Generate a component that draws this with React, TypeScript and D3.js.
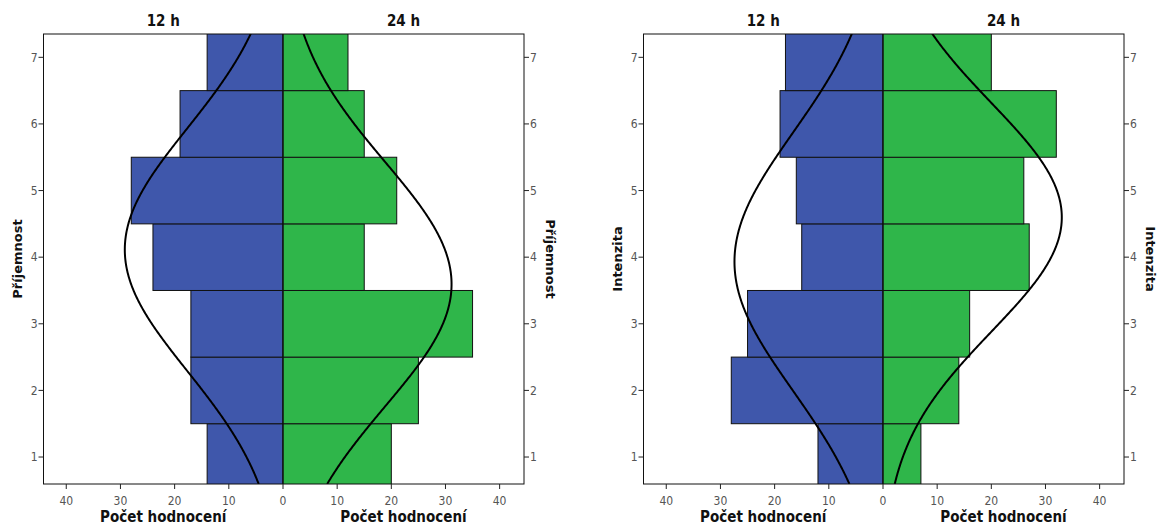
import React from "react"
import * as d3 from "d3"

const W = 1157
const H = 528

const ratings = [1, 2, 3, 4, 5, 6, 7]
const groupTitles = ["12 h", "24 h"]
const xTicks = [0, 10, 20, 30, 40]
const xTitle = "Počet hodnocení"

// counts per rating 1..7
const prijemnost12 = [14, 17, 17, 24, 28, 19, 14]
const prijemnost24 = [20, 25, 35, 15, 21, 15, 12]
const intenzita12 = [12, 28, 25, 15, 16, 19, 18]
const intenzita24 = [7, 14, 16, 27, 26, 32, 20]

const BLUE = "#3F57AB"
const GREEN = "#2FB64A"
const narrow = "'Liberation Sans Narrow', 'DejaVu Sans Condensed', Arial, sans-serif"

const top = 34
const bottom = 484
const left = 43.5
const mid = 283
const right = 524

// normal curve fitted to the counts (as SPSS draws it)
const fit = (counts: number[]) => {
  const n = d3.sum(counts)
  const mean = d3.sum(counts, (c, i) => c * ratings[i]) / n
  const v = d3.sum(counts, (c, i) => c * (ratings[i] - mean) ** 2) / n
  const sd = Math.sqrt(v)
  return (x: number) => (n / (sd * Math.sqrt(2 * Math.PI))) * Math.exp(-((x - mean) ** 2) / (2 * sd * sd))
}

const Pyramid = ({ ox, label, c12, c24, id }: { ox: number; label: string; c12: number[]; c24: number[]; id: string }) => {
  const y = d3.scaleLinear().domain([0.595, 7.35]).range([bottom, top])
  const xl = d3.scaleLinear().domain([44.2, 0]).range([left, mid])
  const xr = d3.scaleLinear().domain([0, 44.5]).range([mid, right])
  const f12 = fit(c12)
  const f24 = fit(c24)
  const samples = d3.range(0.595, 7.36, 0.02)
  const lineL = d3.line<number>().x(v => xl(f12(v))).y(v => y(v))
  const lineR = d3.line<number>().x(v => xr(f24(v))).y(v => y(v))

  return (
    <g transform={`translate(${ox},0)`}>
      <defs>
        <clipPath id={id}>
          <rect x={left} y={top} width={right - left} height={bottom - top} />
        </clipPath>
      </defs>
      <g clipPath={`url(#${id})`}>
        {ratings.map((r, i) => (
          <rect key={"l" + r} x={xl(c12[i])} y={y(r + 0.5)} width={xl(0) - xl(c12[i])} height={y(r - 0.5) - y(r + 0.5)}
            fill={BLUE} stroke="#111" strokeWidth={1} />
        ))}
        {ratings.map((r, i) => (
          <rect key={"r" + r} x={xr(0)} y={y(r + 0.5)} width={xr(c24[i]) - xr(0)} height={y(r - 0.5) - y(r + 0.5)}
            fill={GREEN} stroke="#111" strokeWidth={1} />
        ))}
        <line x1={mid} x2={mid} y1={top} y2={bottom} stroke="#111" />
        <path d={lineL(samples) || ""} fill="none" stroke="#000" strokeWidth={2} />
        <path d={lineR(samples) || ""} fill="none" stroke="#000" strokeWidth={2} />
      </g>
      <rect x={left} y={top} width={right - left} height={bottom - top} fill="none" stroke="#111" strokeWidth={1} />

      {/* rating ticks, both sides */}
      {ratings.map(r => (
        <g key={"yt" + r} fontFamily={narrow} fontSize={12} fill="#555">
          <line x1={left - 5} x2={left} y1={y(r)} y2={y(r)} stroke="#222" />
          <text x={left - 6} y={y(r)} dy="0.35em" textAnchor="end">{r}</text>
          <line x1={right} x2={right + 5} y1={y(r)} y2={y(r)} stroke="#222" />
          <text x={right + 6} y={y(r)} dy="0.35em">{r}</text>
        </g>
      ))}

      {/* count ticks */}
      {xTicks.map(t => (
        <g key={"xl" + t} fontFamily={narrow} fontSize={12} fill="#555" textAnchor="middle">
          <line x1={xl(t)} x2={xl(t)} y1={bottom} y2={bottom + 5} stroke="#222" />
          <text x={xl(t)} y={bottom + 21}>{t}</text>
        </g>
      ))}
      {xTicks.filter(t => t > 0).map(t => (
        <g key={"xr" + t} fontFamily={narrow} fontSize={12} fill="#555" textAnchor="middle">
          <line x1={xr(t)} x2={xr(t)} y1={bottom} y2={bottom + 5} stroke="#222" />
          <text x={xr(t)} y={bottom + 21}>{t}</text>
        </g>
      ))}

      <g fontFamily={narrow} fontWeight="bold" fontSize={15} fill="#111" textAnchor="middle">
        <text x={(left + mid) / 2} y={26}>{groupTitles[0]}</text>
        <text x={(mid + right) / 2} y={26}>{groupTitles[1]}</text>
        <text x={(left + mid) / 2} y={522}>{xTitle}</text>
        <text x={(mid + right) / 2} y={522}>{xTitle}</text>
      </g>

      <g fontFamily="'DejaVu Sans', sans-serif" fontWeight="bold" fontSize={13} fill="#111" textAnchor="middle">
        <text transform={`translate(${left - 22},${(top + bottom) / 2}) rotate(-90)`}>{label}</text>
        <text transform={`translate(${right + 22},${(top + bottom) / 2}) rotate(90)`}>{label}</text>
      </g>
    </g>
  )
}

export default function App() {
  return (
    <svg width={W} height={H} style={{ position: "absolute", left: 0, top: 0, background: "#fff" }}>
      <Pyramid ox={0} label="Příjemnost" c12={prijemnost12} c24={prijemnost24} id="clipA" />
      <Pyramid ox={600} label="Intenzita" c12={intenzita12} c24={intenzita24} id="clipB" />
    </svg>
  )
}
